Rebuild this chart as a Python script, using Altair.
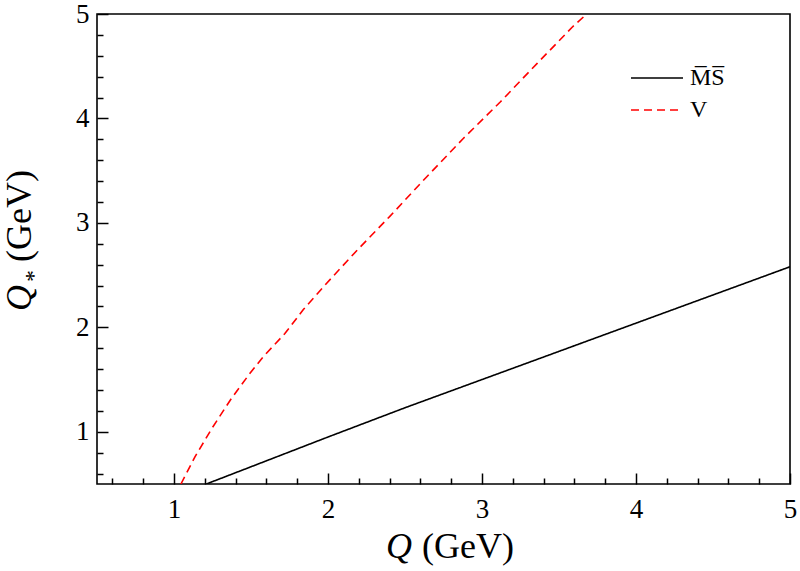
import altair as alt
import pandas as pd

# --- data ---
ms_q = [1.21, 1.5, 2.0, 2.5, 3.0, 3.5, 4.0, 4.5, 5.0]
ms_qs = [0.50, 0.665, 0.95, 1.23, 1.50, 1.77, 2.04, 2.31, 2.58]

v_q = [1.045, 1.136, 1.245, 1.364, 1.483, 1.58, 1.72, 1.84, 1.99, 2.19, 2.40, 2.64, 2.88, 3.12, 3.36, 3.59, 3.68]
v_qs = [0.50, 0.76, 1.03, 1.30, 1.54, 1.72, 1.94, 2.17, 2.42, 2.74, 3.06, 3.44, 3.81, 4.16, 4.53, 4.88, 5.00]

series_names = ["M\u0305S\u0305", "V"]
series_colors = ["#000000", "#ff0000"]

major_ticks = [1, 2, 3, 4, 5]
minor_ticks = [round(0.6 + 0.2 * i, 1) for i in range(22)]
minor_ticks = [t for t in minor_ticks if abs(t - round(t)) > 1e-9]

df = pd.concat([
    pd.DataFrame({"Q": ms_q, "Qs": ms_qs, "series": series_names[0]}),
    pd.DataFrame({"Q": v_q, "Qs": v_qs, "series": series_names[1]}),
])

W, H = 693, 470
FONT = "Liberation Serif"
xs = alt.Scale(domain=[0.5, 5], nice=False, zero=False)
ys = alt.Scale(domain=[0.5, 5], nice=False, zero=False)

lines = alt.Chart(df).mark_line(clip=True, strokeWidth=1.6).encode(
    x=alt.X("Q:Q", scale=xs, axis=alt.Axis(orient="bottom", values=major_ticks, tickSize=0,
                                           domain=False, grid=False, title=None, labelFont=FONT,
                                           labelFontSize=27, labelColor="black", labelPadding=12,
                                           labelFlush=False, format="d")),
    y=alt.Y("Qs:Q", scale=ys, axis=alt.Axis(orient="left", values=major_ticks, tickSize=0,
                                            domain=False, grid=False, title=None, labelFont=FONT,
                                            labelFontSize=27, labelColor="black", labelPadding=8,
                                            labelFlush=False, format="d")),
    color=alt.Color("series:N", scale=alt.Scale(domain=series_names, range=series_colors),
                    legend=alt.Legend(title=None, orient="none", legendX=546, legendY=50,
                                      symbolType="M-2,0H2", symbolSize=676, symbolStrokeWidth=1.6,
                                      symbolFillColor="transparent",
                                      labelFont=FONT, labelFontSize=24, labelColor="black",
                                      rowPadding=6, labelOffset=19)),
    strokeDash=alt.StrokeDash("series:N", scale=alt.Scale(domain=series_names, range=[[1, 0], [8, 5]]),
                              legend=None),
)


def tick_layer(values, size):
    return alt.Chart(df).mark_point(opacity=0).encode(
        x=alt.X("Q:Q", scale=xs, axis=alt.Axis(orient="top", offset=-H, values=values, tickSize=size,
                                               tickWidth=1.5, tickColor="black", labels=False,
                                               domain=False, grid=False, title=None)),
        y=alt.Y("Qs:Q", scale=ys, axis=alt.Axis(orient="right", offset=-W, values=values, tickSize=size,
                                                tickWidth=1.5, tickColor="black", labels=False,
                                                domain=False, grid=False, title=None)),
    )


TS = 36
title_df = pd.DataFrame({"a": [0]})
xq = alt.Chart(title_df).mark_text(text="Q", font=FONT, fontSize=TS, fontStyle="italic",
                                   align="center", baseline="alphabetic").encode(
    x=alt.value(302), y=alt.value(544))
xg = alt.Chart(title_df).mark_text(text="(GeV)", font=FONT, fontSize=TS,
                                   align="left", baseline="alphabetic").encode(
    x=alt.value(325), y=alt.value(544))
yq = alt.Chart(title_df).mark_text(text="Q", font=FONT, fontSize=TS, fontStyle="italic", angle=270,
                                   align="center", baseline="middle").encode(
    x=alt.value(-77), y=alt.value(284))
ystar = alt.Chart(title_df).mark_text(text="*", font=FONT, fontSize=24, angle=270,
                                      align="center", baseline="middle").encode(
    x=alt.value(-63), y=alt.value(262))
yg = alt.Chart(title_df).mark_text(text="(GeV)", font=FONT, fontSize=TS, angle=270,
                                   align="left", baseline="middle").encode(
    x=alt.value(-77), y=alt.value(248))

chart = alt.layer(
    lines, tick_layer(major_ticks, 11), tick_layer(minor_ticks, 6), xq, xg, yq, ystar, yg
).resolve_axis(x="independent", y="independent").properties(
    width=W, height=H,
    autosize=alt.AutoSizeParams(type="none"),
    padding={"left": 97, "top": 14, "right": 10, "bottom": 87},
    background="white",
).configure_view(stroke="black", strokeWidth=1.6)

chart.save("out.html", embed_options={"renderer": "svg", "actions": False})
